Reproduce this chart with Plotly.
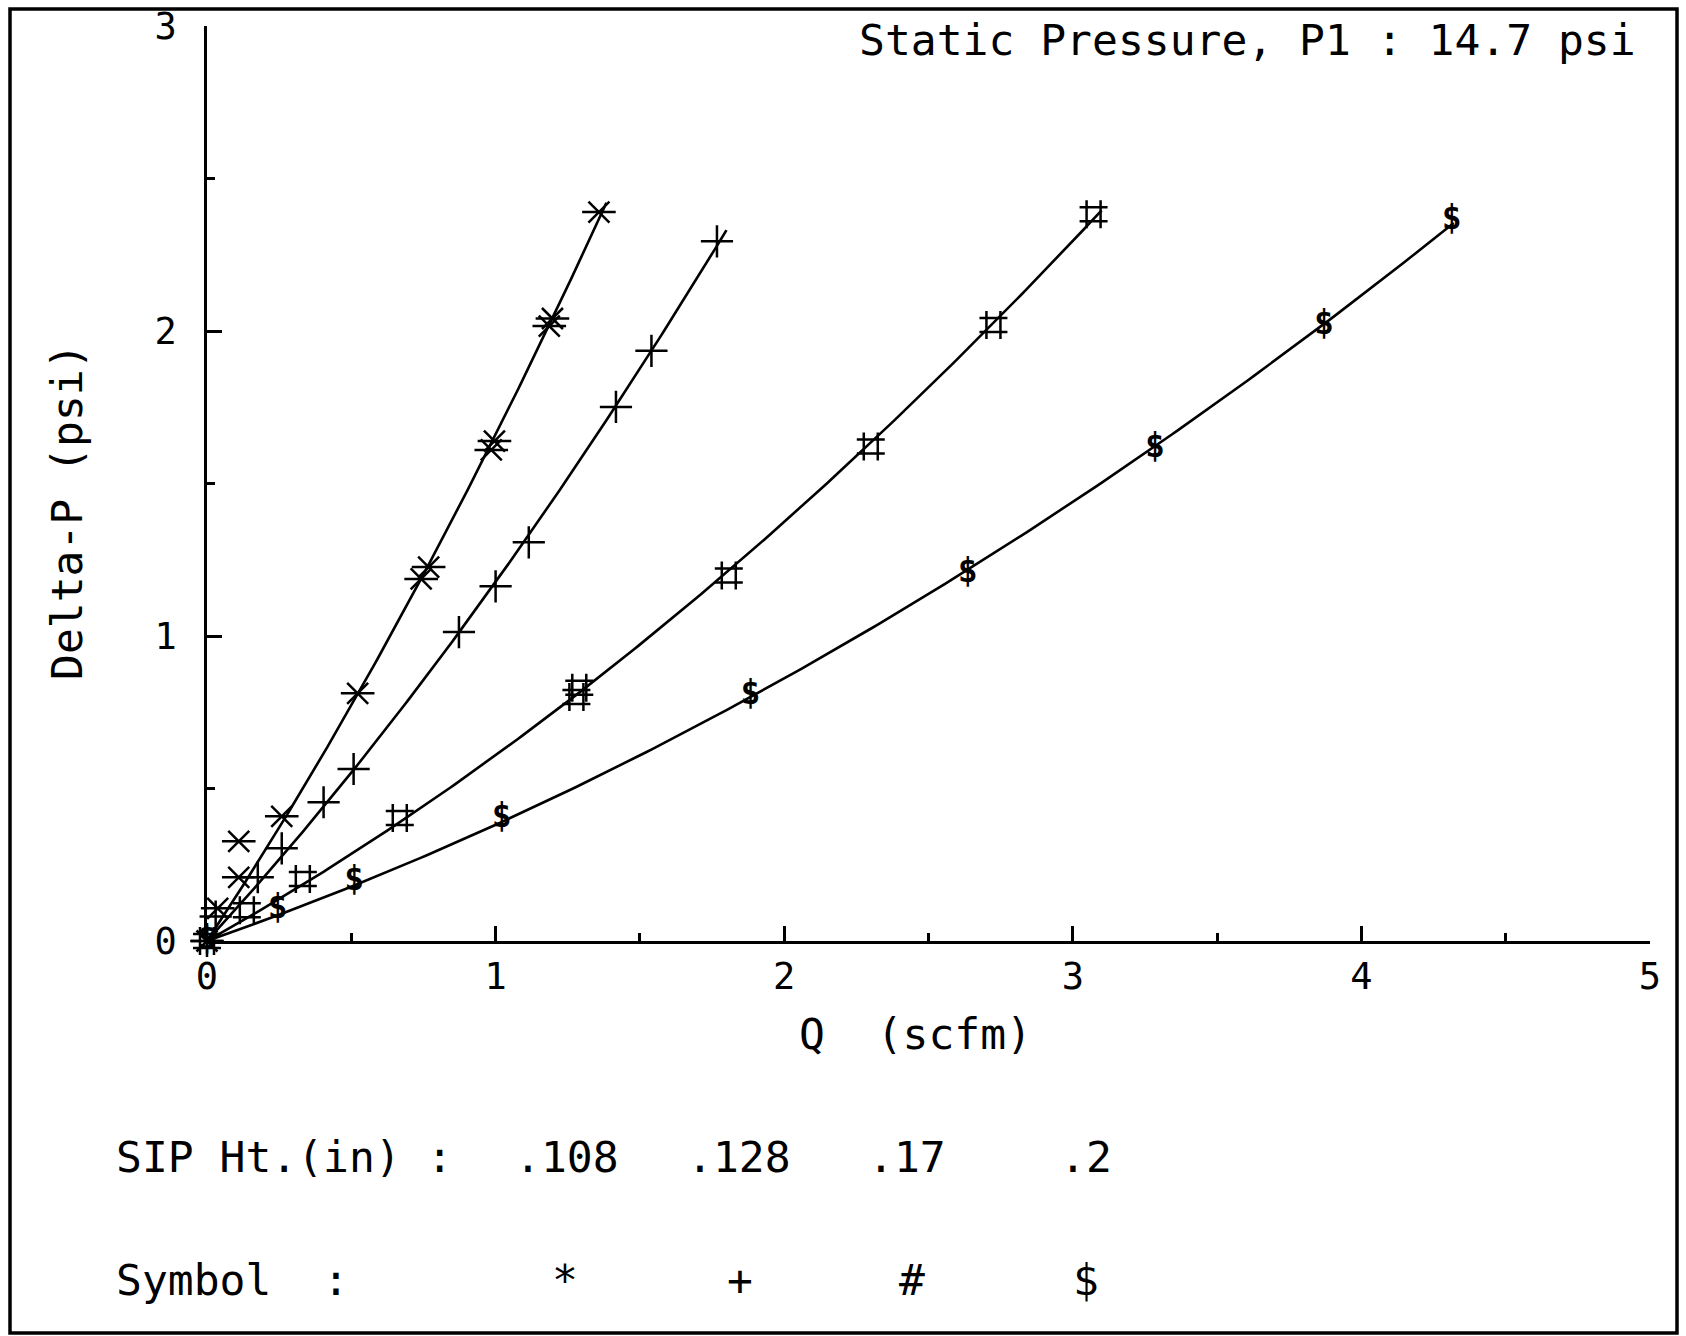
import numpy as np
import plotly.graph_objects as go

# ---------------- data ----------------
star_q = [0, 0.037, 0.11, 0.259, 0.522, 0.742, 0.768, 0.985, 0.996, 1.186, 1.197, 1.358]
star_dp = [0, 0.107, 0.209, 0.409, 0.812, 1.187, 1.226, 1.61, 1.639, 2.016, 2.041, 2.39]
star_stray_q = [0.11]
star_stray_dp = [0.327]

plus_q = [0, 0.03, 0.176, 0.259, 0.404, 0.508, 0.873, 1.0, 1.115, 1.417, 1.54, 1.767]
plus_dp = [0, 0.08, 0.209, 0.304, 0.455, 0.564, 1.013, 1.163, 1.307, 1.751, 1.935, 2.294]

hash_q = [0, 0.138, 0.332, 0.668, 1.28, 1.29, 1.808, 2.30, 2.725, 3.072]
hash_dp = [0, 0.101, 0.203, 0.403, 0.80, 0.83, 1.198, 1.621, 2.02, 2.383]

dollar_q = [0, 0.245, 0.51, 1.021, 1.883, 2.636, 3.285, 3.87, 4.313]
dollar_dp = [0, 0.101, 0.193, 0.402, 0.803, 1.205, 1.614, 2.016, 2.362]

curve_end_q = [1.384, 1.80, 3.10, 4.32]

sip_heights = [".108", ".128", ".17", ".2"]
symbols = ["*", "+", "#", "$"]

x_ticks = [0, 1, 2, 3, 4, 5]
y_ticks = [0, 1, 2, 3]
tick_labels_x = ["0", "1", "2", "3", "4", "5"]
tick_labels_y = ["0", "1", "2", "3"]

# ---------------- figure ----------------
W, H = 1686, 1336
L, R, T, B = 207, 36, 26, 395
PW, PH = W - L - R, H - T - B

def px(xp):
    return (xp - L) / PW

def py(yp):
    return (H - B - yp) / PH

FONT = "DejaVu Sans Mono"
FS = 43
fig = go.Figure()

series = [(star_q, star_dp), (plus_q, plus_dp), (hash_q, hash_dp), (dollar_q, dollar_dp)]

# fitted smooth curves (through origin)
for (q, dp), qend in zip(series, curve_end_q):
    q = np.array(q, float)
    dp = np.array(dp, float)
    A = np.vstack([q, q ** 2]).T
    coef, *_ = np.linalg.lstsq(A, dp, rcond=None)
    xs = np.linspace(0, qend, 200)
    ys = coef[0] * xs + coef[1] * xs ** 2
    fig.add_trace(go.Scatter(x=xs, y=ys, mode="lines",
                             line=dict(color="black", width=2.6),
                             hoverinfo="skip", cliponaxis=False))

def mk(size):
    return dict(color="black", size=size, line=dict(color="black", width=2.5))

# '*' markers: X with horizontal bar
all_star_q = star_q + star_stray_q
all_star_dp = star_dp + star_stray_dp
fig.add_trace(go.Scatter(x=all_star_q, y=all_star_dp, mode="markers",
                         marker=dict(symbol="x-thin-open", **mk(21)), cliponaxis=False))
fig.add_trace(go.Scatter(x=all_star_q, y=all_star_dp, mode="markers",
                         marker=dict(symbol="line-ew-open", **mk(24)), cliponaxis=False))
# '+' markers
fig.add_trace(go.Scatter(x=plus_q, y=plus_dp, mode="markers",
                         marker=dict(symbol="cross-thin-open", **mk(23)), cliponaxis=False))
# '#' markers
fig.add_trace(go.Scatter(x=hash_q, y=hash_dp, mode="markers",
                         marker=dict(symbol="hash-open", **mk(28)), cliponaxis=False))
# '$' markers
fig.add_trace(go.Scatter(x=dollar_q, y=dollar_dp, mode="text",
                         text=["$"] * len(dollar_q), textposition="middle center",
                         textfont=dict(family=FONT, size=33, color="black", weight="bold"),
                         cliponaxis=False))

axis_common = dict(showline=True, linecolor="black", linewidth=2.5,
                   ticks="inside", ticklen=15, tickwidth=2.5, tickcolor="black",
                   showgrid=False, zeroline=False, automargin=False,
                   tickfont=dict(family=FONT, size=37, color="black"),
                   minor=dict(ticks="inside", ticklen=8, tickwidth=2.5,
                              tickcolor="black", dtick=0.5, showgrid=False))

fig.update_xaxes(range=[0, 5], tickvals=x_ticks, ticktext=tick_labels_x,
                 ticklabelstandoff=1, **axis_common)
fig.update_yaxes(range=[0, 3], tickvals=y_ticks, ticktext=tick_labels_y,
                 ticklabelstandoff=20, **axis_common)

ann = []
ann.append(dict(text="Static Pressure, P1 : 14.7 psi", x=px(1638), y=py(40),
                xanchor="right", yanchor="middle"))
ann.append(dict(text="Delta-P (psi)", x=px(67), y=py(512), textangle=-90,
                xanchor="center", yanchor="middle"))
ann.append(dict(text="Q\u00a0\u00a0(scfm)", x=px(915), y=py(1034),
                xanchor="center", yanchor="middle"))
ann.append(dict(text="SIP Ht.(in) :", x=px(114), y=py(1157),
                xanchor="left", yanchor="middle"))
ann.append(dict(text="Symbol\u00a0\u00a0:", x=px(114), y=py(1280),
                xanchor="left", yanchor="middle"))
sip_x = [567, 739, 907, 1086]
sym_x = [565, 740, 912, 1086]
for s, xp in zip(sip_heights, sip_x):
    ann.append(dict(text=s, x=px(xp), y=py(1157), xanchor="center", yanchor="middle"))
for s, xp in zip(symbols, sym_x):
    ann.append(dict(text=s, x=px(xp), y=py(1280), xanchor="center", yanchor="middle"))
for a in ann:
    a.update(xref="paper", yref="paper", showarrow=False,
             font=dict(family=FONT, size=FS, color="black"))

fig.update_layout(
    width=W, height=H,
    margin=dict(l=L, r=R, t=T, b=B, autoexpand=False),
    paper_bgcolor="white", plot_bgcolor="white",
    showlegend=False,
    annotations=ann,
    shapes=[dict(type="rect", xref="paper", yref="paper",
                 x0=px(10), x1=px(1677), y0=py(1333), y1=py(9),
                 line=dict(color="black", width=3.5))],
)

fig.write_html("out.html", config={"displayModeBar": False},
               post_script="document.body.style.margin='0';document.body.style.overflow='hidden';")
